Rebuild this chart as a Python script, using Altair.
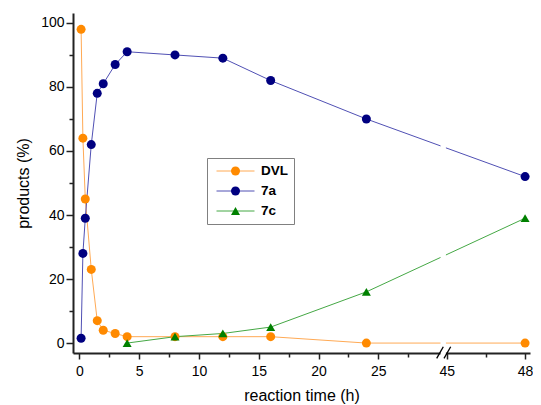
import altair as alt
import pandas as pd

# ---- data ----
series_names = ["DVL", "7a", "7c"]
t_dvl = [0.15, 0.3, 0.5, 1, 1.5, 2, 3, 4, 8, 12, 16, 24, 48]
v_dvl = [98, 64, 45, 23, 7, 4, 3, 2, 2, 2, 2, 0, 0]
t_7a = [0.15, 0.3, 0.5, 1, 1.5, 2, 3, 4, 8, 12, 16, 24, 48]
v_7a = [1.5, 28, 39, 62, 78, 81, 87, 91, 90, 89, 82, 70, 52]
t_7c = [4, 8, 12, 16, 24, 48]
v_7c = [0, 2, 3, 5, 16, 39]

x_major = [0, 5, 10, 15, 20, 25, 45, 48]
x_minor = [2.5, 7.5, 12.5, 17.5, 22.5, 27.5, 46.5]
y_ticks = [0, 10, 20, 30, 40, 50, 60, 70, 80, 90, 100]

marker_colors = ["#FF8A00", "#000080", "#008000"]
line_colors = ["#FFAA55", "#5050B4", "#45A845"]
marker_shapes = ["circle", "circle", "triangle-up"]
marker_sizes = [81, 81, 121]

# ---- broken x axis: 0..30 h linear, then 45..48 h stretched ----
SEG1_END = 30.0
SEG2_START = 45.0
SEG2_U = 30.72
STRETCH = 2.183
X_DOMAIN = [-0.527, 37.68]
Y_DOMAIN = [-3.1, 103.1]


def to_u(t):
    return t if t <= SEG1_END else SEG2_U + (t - SEG2_START) * STRETCH


rows = []
for name, ts, vs in [("DVL", t_dvl, v_dvl), ("7a", t_7a, v_7a), ("7c", t_7c, v_7c)]:
    for t, v in zip(ts, vs):
        rows.append({"t": t, "v": v, "series": name, "line_series": name, "u": to_u(t)})
df = pd.DataFrame(rows)

x_major_u = [to_u(t) for t in x_major]
x_minor_u = [to_u(t) for t in x_minor]
x_vals = sorted(x_major_u + x_minor_u)

minor_js = "[" + ",".join(repr(v) for v in x_minor_u) + "]"
x_minor_test = f"indexof({minor_js}, datum.value) >= 0"
x_label_expr = (
    f"{x_minor_test} ? '' : "
    f"(datum.value <= {SEG1_END} ? format(datum.value, 'd') : "
    f"format({SEG2_START} + (datum.value - {SEG2_U}) / {STRETCH}, '.0f'))"
)

FONT = "Liberation Sans, Arial, sans-serif"

xscale = alt.Scale(domain=X_DOMAIN, nice=False, zero=False)
yscale = alt.Scale(domain=Y_DOMAIN, nice=False, zero=False)

x_axis = alt.Axis(
    values=x_vals, labelExpr=x_label_expr, title="reaction time (h)",
    tickSize={"condition": {"test": x_minor_test, "value": 4}, "value": 6},
    labelPadding=5, titlePadding=9, grid=False,
)
y_axis = alt.Axis(
    values=y_ticks, labelExpr="datum.value % 20 == 0 ? datum.label : ''",
    title="products (%)",
    tickSize={"condition": {"test": "datum.value % 20 != 0", "value": 4}, "value": 7},
    labelPadding=2, titlePadding=9, grid=False,
)

LEG_X, LEG_Y = 134, 145
line_legend = alt.Legend(
    orient="none", legendX=LEG_X, legendY=LEG_Y, title=None, padding=6,
    strokeColor="#808080", symbolType="stroke", symbolSize=1444, symbolStrokeWidth=1,
    clipHeight=14, rowPadding=6, symbolOffset=3, labelOffset=6,
    labelFont=FONT, labelFontSize=13.5, labelFontWeight="bold", labelColor="black",
)
point_legend = alt.Legend(
    orient="none", legendX=LEG_X, legendY=LEG_Y, title=None, padding=6,
    clipHeight=14, rowPadding=6, symbolOffset=15.75, symbolStrokeWidth=0,
    labelFont=FONT, labelFontSize=13.5, labelExpr="''",
)

lines = alt.Chart(df).mark_line(strokeWidth=1).encode(
    x=alt.X("u:Q", scale=xscale, axis=x_axis),
    y=alt.Y("v:Q", scale=yscale, axis=y_axis),
    stroke=alt.Stroke("line_series:N", sort=series_names,
                      scale=alt.Scale(range=line_colors), legend=line_legend),
    order=alt.Order("t:Q"),
)

points = alt.Chart(df).mark_point(filled=True, opacity=1, strokeWidth=0).encode(
    x=alt.X("u:Q", scale=xscale, axis=x_axis),
    y=alt.Y("v:Q", scale=yscale, axis=y_axis),
    fill=alt.Fill("series:N", scale=alt.Scale(domain=series_names, range=marker_colors), legend=point_legend),
    shape=alt.Shape("series:N", scale=alt.Scale(domain=series_names, range=marker_shapes), legend=point_legend),
    size=alt.Size("series:N", scale=alt.Scale(domain=series_names, range=marker_sizes), legend=point_legend),
)

# axis-break decoration (gap + two slashes), positioned in axis units
gap_df = pd.DataFrame({"u0": [30.2], "u1": [30.65], "y0": [-5.5], "y1": [103.0]})
gap = alt.Chart(gap_df).mark_rect(color="white").encode(
    x=alt.X("u0:Q", scale=xscale, axis=x_axis), x2="u1:Q",
    y=alt.Y("y0:Q", scale=yscale, axis=y_axis), y2="y1:Q",
)
slash_df = pd.DataFrame({
    "u0": [29.88, 30.49], "u1": [30.43, 31.05],
    "y0": [-4.8, -4.8], "y1": [-1.15, -1.15],
})
slashes = alt.Chart(slash_df).mark_rule(color="black", strokeWidth=1.3).encode(
    x=alt.X("u0:Q", scale=xscale, axis=x_axis), x2="u1:Q",
    y=alt.Y("y0:Q", scale=yscale, axis=y_axis), y2="y1:Q",
)

chart = alt.layer(lines, points, gap, slashes).properties(
    width=457, height=340,
    autosize=alt.AutoSizeParams(type="none"),
    padding={"left": 65, "top": 5, "right": 3, "bottom": 52},
).configure_view(stroke=None).configure_axis(
    domainColor="#222222", domainWidth=2, tickColor="#222222", tickWidth=1.5,
    labelFont=FONT, labelFontSize=14, labelColor="black",
    titleFont=FONT, titleFontSize=16, titleFontWeight="normal", titleColor="black",
)

chart.save("out.html", embed_options={"renderer": "svg", "actions": False})
